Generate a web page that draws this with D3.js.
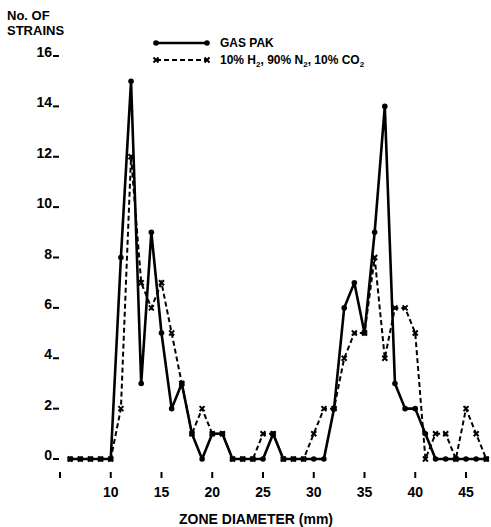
<!DOCTYPE html>
<html>
<head>
<meta charset="utf-8">
<script src="https://cdn.jsdelivr.net/npm/d3@7"></script>
<style>
body { margin:0; background:#fff; }
text { font-family: "Liberation Sans", Arial, sans-serif; font-weight: bold; fill:#000; }
</style>
</head>
<body>
<script>
// zone diameter (mm)
var zones = [6,7,8,9,10,11,12,13,14,15,16,17,18,19,20,21,22,23,24,25,26,
             27,28,29,30,31,32,33,34,35,36,37,38,39,40,41,42,43,44,45,46,47];
// GAS PAK (solid)
var gasPak = [0,0,0,0,0,8,15,3,9,5,2,3,1,0,1,1,0,0,0,0,1,
              0,0,0,0,0,2,6,7,5,9,14,3,2,2,1,0,0,0,0,0,0];
// 10% H2, 90% N2, 10% CO2 (dashed)
var mixGas = [0,0,0,0,0,2,12,7,6,7,5,3,1,2,1,1,0,0,0,1,1,
              0,0,0,1,2,2,4,5,5,8,4,6,6,5,0,1,1,0,2,1,0];
var yTicks = [0,2,4,6,8,10,12,14,16];
var xTicks = [5,10,15,20,25,30,35,40,45];

var W = 491, H = 527;
var svg = d3.select("body").append("svg").attr("width", W).attr("height", H);

var x = d3.scaleLinear().domain([5,45]).range([60,466]);
var y = d3.scaleLinear().domain([0,16]).range([459,56]);

// y tick labels with little dash
var yt = svg.append("g");
yTicks.forEach(function(t){
  yt.append("text").attr("x", 52).attr("y", y(t)+1)
    .attr("text-anchor","end").style("font-size","14px").text(t);
  yt.append("line").attr("x1",53).attr("x2",59).attr("y1",y(t)).attr("y2",y(t))
    .attr("stroke","#000").attr("stroke-width",2);
});

// y title
svg.append("text").attr("x",7).attr("y",20).style("font-size","13px").text("No. OF");
svg.append("text").attr("x",7).attr("y",35).style("font-size","13px").text("STRAINS");

// x ticks
var xt = svg.append("g");
xTicks.forEach(function(t){
  xt.append("line").attr("x1",x(t)).attr("x2",x(t)).attr("y1",472).attr("y2",478)
    .attr("stroke","#000").attr("stroke-width",2);
  if (t != 5)
    xt.append("text").attr("x",x(t)).attr("y",497).attr("text-anchor","middle")
      .style("font-size","14px").text(t);
});
svg.append("text").attr("x",256).attr("y",524).attr("text-anchor","middle")
  .style("font-size","14px").text("ZONE DIAMETER (mm)");

var line = d3.line().x(function(d){ return x(d[0]); }).y(function(d){ return y(d[1]); });
var solidData = zones.map(function(z,i){ return [z, gasPak[i]]; });
var dashData = zones.map(function(z,i){ return [z, mixGas[i]]; });

function cross(g, cx, cy){
  g.append("path").attr("d","M"+(cx-2.5)+","+(cy-2.5)+"L"+(cx+2.5)+","+(cy+2.5)+
    "M"+(cx+2.5)+","+(cy-2.5)+"L"+(cx-2.5)+","+(cy+2.5))
    .attr("stroke","#000").attr("stroke-width",2).attr("fill","none");
}

// dashed series
var gd = svg.append("g");
gd.append("path").datum(dashData).attr("d", line).attr("fill","none")
  .attr("stroke","#000").attr("stroke-width",2).attr("stroke-dasharray","5,3");
dashData.forEach(function(d){ cross(gd, x(d[0]), y(d[1])); });

// solid series
var gs = svg.append("g");
gs.append("path").datum(solidData).attr("d", line).attr("fill","none")
  .attr("stroke","#000").attr("stroke-width",2.6).attr("stroke-linejoin","round");
gs.selectAll("circle").data(solidData).enter().append("circle")
  .attr("cx", function(d){ return x(d[0]); }).attr("cy", function(d){ return y(d[1]); })
  .attr("r", 2.8).attr("fill","#000");

// legend
var lg = svg.append("g");
lg.append("line").attr("x1",156).attr("x2",207).attr("y1",43).attr("y2",43)
  .attr("stroke","#000").attr("stroke-width",2.6);
lg.append("circle").attr("cx",156).attr("cy",43).attr("r",2.8);
lg.append("circle").attr("cx",207).attr("cy",43).attr("r",2.8);
lg.append("text").attr("x",220).attr("y",47).style("font-size","12px").text("GAS  PAK");
lg.append("line").attr("x1",156).attr("x2",207).attr("y1",60).attr("y2",60)
  .attr("stroke","#000").attr("stroke-width",2).attr("stroke-dasharray","5,3");
cross(lg,156,60); cross(lg,207,60);
var t2 = lg.append("text").attr("x",220).attr("y",64).style("font-size","12px");
t2.append("tspan").text("10% H");
t2.append("tspan").attr("dy",3).style("font-size","8px").text("2");
t2.append("tspan").attr("dy",-3).text(", 90% N");
t2.append("tspan").attr("dy",3).style("font-size","8px").text("2");
t2.append("tspan").attr("dy",-3).text(", 10% CO");
t2.append("tspan").attr("dy",3).style("font-size","8px").text("2");
</script>
</body>
</html>
